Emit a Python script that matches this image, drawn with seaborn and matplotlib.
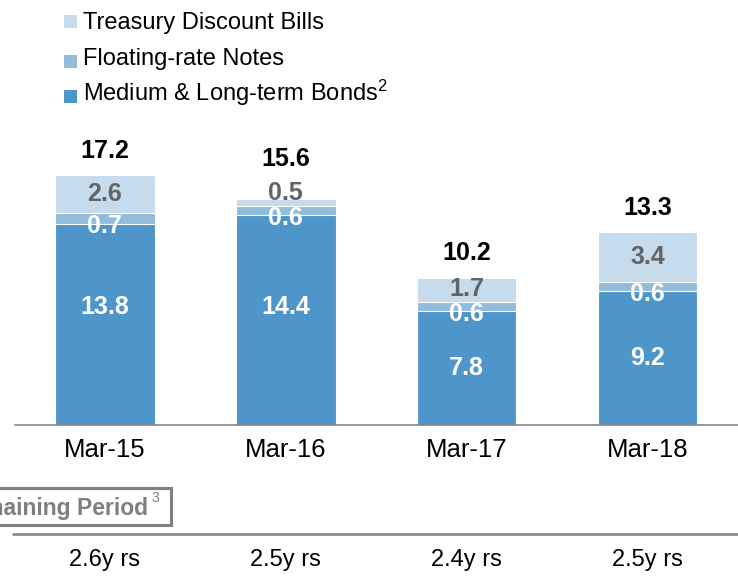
import numpy as np
import pandas as pd
import matplotlib
matplotlib.use("Agg")
import matplotlib.pyplot as plt
from matplotlib.patches import Rectangle
from matplotlib.lines import Line2D
import matplotlib.transforms as mtrans
import seaborn as sns

# ---- data ----
periods = ["Mar-15", "Mar-16", "Mar-17", "Mar-18"]
medium_long_bonds = [13.8, 14.4, 7.8, 9.2]
floating_notes = [0.7, 0.6, 0.6, 0.6]
treasury_bills = [2.6, 0.5, 1.7, 3.4]
totals = [17.2, 15.6, 10.2, 13.3]
remaining = ["2.6y rs", "2.5y rs", "2.4y rs", "2.5y rs"]
series_names = ["Treasury Discount Bills", "Floating-rate Notes", "Medium & Long-term Bonds"]

# ---- style ----
sns.set_theme(style="white")
plt.rcParams["font.family"] = ["Liberation Sans", "DejaVu Sans"]
plt.rcParams["mathtext.fontset"] = "custom"
plt.rcParams["mathtext.rm"] = "Liberation Sans"
plt.rcParams["mathtext.default"] = "regular"

C_MED = "#4E95C9"
C_FLT = "#93BCDA"
C_TRS = "#C6DBEC"
GRAY = "#858585"

W, H = 738, 576
fig = plt.figure(figsize=(W / 100, H / 100), dpi=100)

def fx(x):
    return x / W

def fy(y):
    return 1 - y / H

ax_left = 14.5
ax_bottom = 425
ax = fig.add_axes([fx(ax_left), fy(ax_bottom), 1 - fx(ax_left), ax_bottom / H])

df = pd.DataFrame({
    "period": periods,
    "med": medium_long_bonds,
    "flt": floating_notes,
    "trs": treasury_bills,
})
df["med_flt"] = df["med"] + df["flt"]
df["all"] = df["med_flt"] + df["trs"]

for col, c in [("all", C_TRS), ("med_flt", C_FLT), ("med", C_MED)]:
    sns.barplot(data=df, x="period", y=col, color=c, saturation=1, width=0.55,
                edgecolor="white", linewidth=0.8, ax=ax, errorbar=None)

px_per_unit = 14.6
ax.set_ylim(0, ax_bottom / px_per_unit)
ax.set_xlim(-0.5, -0.5 + (W - ax_left) / 183.0)
ax.set_xlabel("")
ax.set_ylabel("")
ax.set_yticks([])
for s in ["top", "right", "left"]:
    ax.spines[s].set_visible(False)
ax.spines["bottom"].set_color(GRAY)
ax.spines["bottom"].set_linewidth(1.2)

ax.set_xticks(range(len(periods)))
ax.set_xticklabels(periods, fontsize=18.5, color="black")
ax.tick_params(axis="x", which="major", length=0, pad=9.5)
ax.set_xticks(np.arange(-0.5, len(periods), 1.0), minor=True)
ax.tick_params(axis="x", which="minor", direction="in", length=5, width=1.2, color=GRAY)

# ---- value labels ----
for i in range(len(periods)):
    m, f, t = medium_long_bonds[i], floating_notes[i], treasury_bills[i]
    my = max(m / 2, min(8.1, m - 5.7))
    ax.text(i, my, f"{m:.1f}", ha="center", va="center",
            fontsize=18, fontweight="bold", color="white")
    ax.text(i, m - 0.2, f"{f:.1f}", ha="center", va="center",
            fontsize=18, fontweight="bold", color="white")
    ty = max(m + f + t / 2, m + f + 0.9)
    ax.text(i, ty, f"{t:.1f}", ha="center", va="center",
            fontsize=18, fontweight="bold", color="#646464")
    top = m + f + t
    ax.text(i, max(top + 1.65, ty + 2.3), f"{totals[i]:.1f}", ha="center", va="center",
            fontsize=18, fontweight="bold", color="black")

# ---- legend (manual) ----
leg_colors = [C_TRS, C_FLT, C_MED]
leg_labels = [series_names[0], series_names[1], series_names[2] + r"$^{2}$"]
sq_tops = [15, 55, 90]
baselines = [28.5, 65.5, 100.5]
for c, lab, st, bl in zip(leg_colors, leg_labels, sq_tops, baselines):
    fig.add_artist(Rectangle((fx(64), fy(st + 12.5)), 13 / W, 12.5 / H,
                             transform=fig.transFigure, facecolor=c, edgecolor="none"))
    fig.text(fx(83), fy(bl), lab, fontsize=17, color="black", ha="left", va="baseline")

# ---- remaining period box ----
fig.add_artist(Rectangle((fx(-10), fy(525)), (171 + 10) / W, (525 - 488) / H,
                         transform=fig.transFigure, facecolor="white",
                         edgecolor="#808080", linewidth=2.2, clip_on=False))
fig.text(fx(147.5), fy(514.5), "Remaining Period", fontsize=16.5, fontweight="bold",
         color="#7F7F7F", ha="right", va="baseline")
fig.text(fx(151.5), fy(502), "3", fontsize=10, color="#7F7F7F", ha="left", va="baseline")

fig.add_artist(Line2D([fx(13), 1.0], [fy(534), fy(534)], transform=fig.transFigure,
                      color="#8C8C8C", linewidth=2.0))

trans = mtrans.blended_transform_factory(ax.transData, fig.transFigure)
for i, r in enumerate(remaining):
    ax.text(i, fy(560), r, transform=trans, ha="center", va="center",
            fontsize=17, color="black", clip_on=False)

fig.savefig("out.png", dpi=100)
